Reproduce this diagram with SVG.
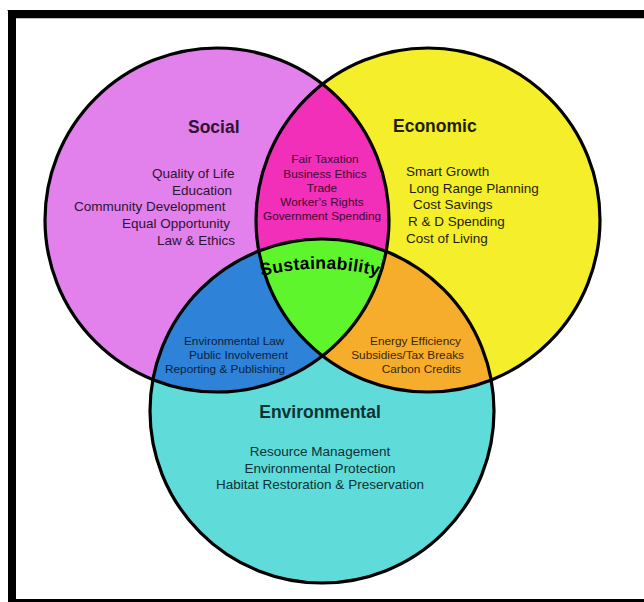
<svg xmlns="http://www.w3.org/2000/svg" width="644" height="602" viewBox="0 0 644 602">
  <defs>
    <clipPath id="clip-social"><circle cx="217" cy="220" r="172"/></clipPath>
    <clipPath id="clip-economic"><circle cx="428" cy="220" r="172"/></clipPath>
    <clipPath id="clip-env"><circle cx="322" cy="411" r="172"/></clipPath>
    <path id="arc-sustain" d="M 200 301 A 240 240 0 0 1 440 301"/>
  </defs>
  <style>
    .outline { fill: none; stroke: #000; stroke-width: 3.2; }
    .title { font-family: "Liberation Sans", Arial, sans-serif; font-weight: bold; font-size: 17.5px; }
    .item { font-family: "Liberation Sans", Arial, sans-serif; font-size: 13.5px; }
    .small { font-family: "Liberation Sans", Arial, sans-serif; font-size: 11.8px; }
    .social-txt { fill: #2e1333; }
    .econ-txt { fill: #1f1d05; }
    .env-txt { fill: #0c3234; }
    .se-txt { fill: #3d0a2e; }
    .sv-txt { fill: #0b1f3d; }
    .ev-txt { fill: #3a2508; }
  </style>

  <rect x="0" y="0" width="644" height="602" fill="#fff"/>

  <!-- picture frame -->
  <g id="frame">
    <rect x="7" y="10" width="637" height="1" fill="#999"/>
    <rect x="8" y="10" width="636" height="8" fill="#000"/>
    <rect x="8" y="10" width="8" height="592" fill="#000"/>
    <rect x="8" y="599" width="636" height="3" fill="#000"/>
    <rect x="16" y="18" width="628" height="1" fill="#bbb"/>
  </g>

  <!-- base circles -->
  <g id="social">
    <circle cx="217" cy="220" r="172" fill="#e281eb"/>
  </g>
  <g id="economic">
    <circle cx="428" cy="220" r="172" fill="#f5ee2a"/>
  </g>
  <g id="environmental">
    <circle cx="322" cy="411" r="172" fill="#5fdbda"/>
  </g>

  <!-- overlaps -->
  <g id="social-economic" clip-path="url(#clip-social)">
    <circle cx="428" cy="220" r="172" fill="#f22fb9"/>
  </g>
  <g id="social-environmental" clip-path="url(#clip-social)">
    <circle cx="322" cy="411" r="172" fill="#2e82d8"/>
  </g>
  <g id="economic-environmental" clip-path="url(#clip-economic)">
    <circle cx="322" cy="411" r="172" fill="#f6ad2c"/>
  </g>
  <g id="sustainability" clip-path="url(#clip-social)">
    <g clip-path="url(#clip-economic)">
      <circle cx="322" cy="411" r="172" fill="#5ff52c"/>
    </g>
  </g>

  <!-- circle outlines -->
  <g id="outlines">
    <circle class="outline" cx="217" cy="220" r="172"/>
    <circle class="outline" cx="428" cy="220" r="172"/>
    <circle class="outline" cx="322" cy="411" r="172"/>
  </g>

  <!-- labels -->
  <g id="social-labels">
    <text class="title social-txt" x="188" y="133">Social</text>
    <text class="item social-txt" x="152" y="178">Quality of Life</text>
    <text class="item social-txt" x="172" y="195">Education</text>
    <text class="item social-txt" x="74" y="211">Community Development</text>
    <text class="item social-txt" x="122" y="228">Equal Opportunity</text>
    <text class="item social-txt" x="157" y="245">Law &amp; Ethics</text>
  </g>

  <g id="economic-labels">
    <text class="title econ-txt" x="393" y="132">Economic</text>
    <text class="item econ-txt" x="406" y="176">Smart Growth</text>
    <text class="item econ-txt" x="409" y="193">Long Range Planning</text>
    <text class="item econ-txt" x="413" y="209">Cost Savings</text>
    <text class="item econ-txt" x="408" y="226">R &amp; D Spending</text>
    <text class="item econ-txt" x="406" y="243">Cost of Living</text>
  </g>

  <g id="social-economic-labels" text-anchor="middle">
    <text class="small se-txt" x="325" y="163">Fair Taxation</text>
    <text class="small se-txt" x="325" y="178">Business Ethics</text>
    <text class="small se-txt" x="322" y="192">Trade</text>
    <text class="small se-txt" x="322" y="206">Worker’s Rights</text>
    <text class="small se-txt" x="322" y="220">Government Spending</text>
  </g>

  <g id="sustainability-label">
    <text class="title" font-size="18.5px" fill="#000" text-anchor="middle" letter-spacing="0.3">
      <textPath href="#arc-sustain" startOffset="50%">Sustainability</textPath>
    </text>
  </g>

  <g id="social-environmental-labels">
    <text class="small sv-txt" x="184" y="345">Environmental Law</text>
    <text class="small sv-txt" x="189" y="359">Public Involvement</text>
    <text class="small sv-txt" x="165" y="373">Reporting &amp; Publishing</text>
  </g>

  <g id="economic-environmental-labels" text-anchor="end">
    <text class="small ev-txt" x="461" y="345">Energy Efficiency</text>
    <text class="small ev-txt" x="464" y="359">Subsidies/Tax Breaks</text>
    <text class="small ev-txt" x="461" y="373">Carbon Credits</text>
  </g>

  <g id="environmental-labels" text-anchor="middle">
    <text class="title env-txt" font-size="18px" x="320" y="418">Environmental</text>
    <text class="item env-txt" x="320" y="456">Resource Management</text>
    <text class="item env-txt" x="320" y="473">Environmental Protection</text>
    <text class="item env-txt" x="320" y="489">Habitat Restoration &amp; Preservation</text>
  </g>
</svg>
